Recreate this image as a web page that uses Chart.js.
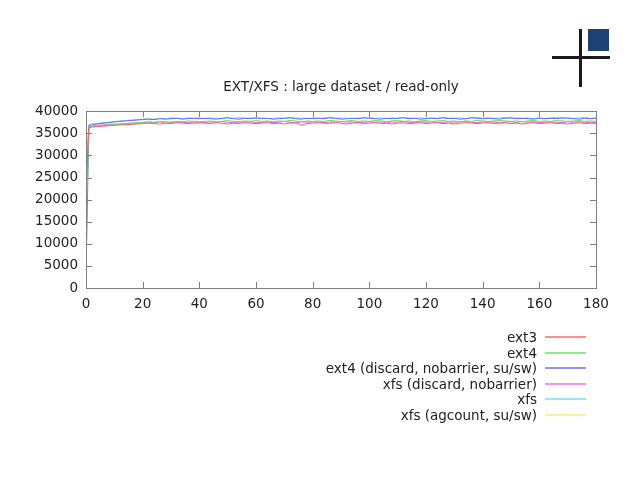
<!DOCTYPE html>
<html>
<head>
<meta charset="utf-8">
<script src="https://cdn.jsdelivr.net/npm/chart.js@4"></script>
<style>
  body { margin: 0; background: #fff; font-family: 'DejaVu Sans', sans-serif; }
  #wrap { position: relative; width: 638px; height: 479px; overflow: hidden; }
  #chart-box { position: absolute; left: 0; top: 0; width: 638px; height: 330px; }
  .bar { position: absolute; background: #1a1a1a; }
  #logo-sq { position: absolute; left: 588px; top: 29px; width: 21px; height: 22px; background: #1d4173; }
  #js-legend { position: absolute; right: 52px; top: 329px; width: 400px; height: 100px; }
  #js-legend ul { list-style: none; margin: 0; padding: 0; }
  #js-legend li { position: absolute; right: 0; height: 16px; line-height: 16px; font-size: 13.5px; color: #222; text-align: right; white-space: nowrap; }
  #js-legend span { position: absolute; right: 0; top: 7px; width: 41px; height: 2px; opacity: 0.7; }
  #js-legend em { font-style: normal; padding-right: 49px; }
</style>
</head>
<body>
<div id="wrap">
  <div id="chart-box"><canvas id="io-chart"></canvas></div>
  <div class="bar" style="left:579px;top:29px;width:3px;height:58px"></div>
  <div class="bar" style="left:552px;top:56px;width:58px;height:3px"></div>
  <div id="logo-sq"></div>
  <div id="js-legend"></div>
</div>
<script>
let labels = ['ext3', 'ext4', 'ext4 (discard, nobarrier, su/sw)', 'xfs (discard, nobarrier)', 'xfs', 'xfs (agcount, su/sw)'];
let colours = ['#f06464', '#64e064', '#6464f0', '#f064f0', '#64e4e4', '#f0f064'];

// seconds
let xs = [0, 1, 2, 4, 6, 8, 10, 12, 14, 16, 18, 20,
  22, 24, 26, 28, 30, 32, 34, 36, 38, 40,
  42, 44, 46, 48, 50, 52, 54, 56, 58, 60,
  62, 64, 66, 68, 70, 72, 74, 76, 78, 80,
  82, 84, 86, 88, 90, 92, 94, 96, 98, 100,
  102, 104, 106, 108, 110, 112, 114, 116, 118, 120,
  122, 124, 126, 128, 130, 132, 134, 136, 138, 140,
  142, 144, 146, 148, 150, 152, 154, 156, 158, 160,
  162, 164, 166, 168, 170, 172, 174, 176, 178, 180];

let ext3 = [22000, 36200, 36400, 36500, 36600, 36700, 36800, 36900, 37000, 37000, 37100, 37200,
  37300, 37200, 37100, 37300, 37200, 37400, 37300, 37200, 37300, 37400,
  37300, 37200, 37400, 37300, 37100, 37300, 37200, 37400, 37300, 37200,
  37300, 37400, 37200, 37300, 37100, 37300, 37400, 36800, 37200, 37300,
  37400, 37300, 37200, 37400, 37300, 37100, 37300, 37400, 37200, 37300,
  37400, 37200, 37300, 37100, 37300, 37400, 37200, 37300, 37400, 37200,
  37300, 37400, 37200, 37300, 37100, 37300, 37400, 37300, 37200, 37300,
  37400, 37200, 37300, 37400, 37200, 37300, 37100, 37300, 37400, 37200,
  37300, 37400, 37200, 37300, 37100, 37300, 37400, 37200, 37300, 37200];

let ext4 = [12000, 36400, 36600, 36700, 36800, 36900, 37000, 37100, 37200, 37300, 37400, 37500,
  37600, 37500, 37700, 37600, 37500, 37700, 37600, 37800, 37700, 37600,
  37700, 37800, 37600, 37700, 37900, 37700, 37600, 37800, 37700, 37900,
  37700, 37800, 37600, 37800, 37700, 37900, 37800, 37600, 37800, 37700,
  37800, 37700, 37900, 37800, 37600, 37800, 37900, 37700, 37800, 37700,
  37900, 37800, 37700, 37800, 37900, 37700, 37800, 37600, 37800, 37900,
  37700, 37800, 37900, 37700, 37800, 37600, 37800, 37700, 37900, 37800,
  37700, 37800, 37900, 37800, 37700, 37800, 37600, 37800, 37900, 37700,
  37800, 37700, 37900, 37800, 37700, 37800, 37900, 37700, 37800, 37700];

let ext4Discard = [3000, 36700, 37000, 37100, 37300, 37400, 37600, 37700, 37800, 37900, 38000, 38100,
  38200, 38100, 38300, 38200, 38300, 38400, 38200, 38300, 38400, 38300,
  38400, 38300, 38200, 38400, 38500, 38300, 38200, 38400, 38300, 38500,
  38300, 38400, 38200, 38300, 38400, 38500, 38300, 38200, 38400, 38300,
  38400, 38300, 38500, 38400, 38200, 38300, 38400, 38300, 38500, 38400,
  38300, 38200, 38400, 38300, 38400, 38500, 38300, 38400, 38200, 38300,
  38400, 38300, 38500, 38300, 38400, 38200, 38300, 38500, 38400, 38300,
  38400, 38300, 38200, 38400, 38500, 38300, 38400, 38300, 38200, 38400,
  38300, 38400, 38300, 38500, 38400, 38300, 38200, 38400, 38300, 38400];

let xfsDiscard = [18000, 36500, 36600, 36800, 36900, 37000, 37100, 37100, 37200, 37300, 37400, 37400,
  37500, 37400, 37600, 37500, 37400, 37600, 37500, 37400, 37600, 37500,
  37400, 37600, 37500, 37700, 37500, 37400, 37600, 37500, 37600, 37400,
  37500, 37600, 37400, 37500, 37700, 37500, 37400, 37600, 37500, 37600,
  37500, 37400, 37600, 37500, 37700, 37500, 37600, 37400, 37500, 37600,
  37500, 37600, 37400, 37600, 37500, 37700, 37500, 37400, 37600, 37500,
  37600, 37500, 37400, 37600, 37500, 37600, 37700, 37500, 37400, 37600,
  37500, 37600, 37400, 37500, 37600, 37500, 37700, 37500, 37600, 37400,
  37500, 37600, 37500, 37400, 37600, 37500, 37600, 37500, 37400, 37500];

let xfs = [26000, 36900, 37100, 37200, 37400, 37500, 37600, 37800, 37900, 38000, 38100, 38200,
  38300, 38200, 38400, 38300, 38500, 38400, 38300, 38500, 38400, 38500,
  38300, 38500, 38400, 38300, 38500, 38400, 38600, 38400, 38500, 38400,
  38500, 38300, 38400, 38500, 38400, 38600, 38400, 38500, 38300, 38500,
  38400, 38500, 38600, 38400, 38500, 38400, 38300, 38500, 38400, 38600,
  38400, 38500, 38300, 38500, 38400, 38600, 38500, 38400, 38500, 38400,
  38500, 38400, 38600, 38500, 38400, 38500, 38300, 38500, 38600, 38400,
  38500, 38400, 38500, 38600, 38400, 38500, 38400, 38500, 38300, 38500,
  38400, 38500, 38600, 38400, 38500, 38400, 38500, 38600, 38400, 38500];

let xfsAgcount = [30000, 36300, 36500, 36600, 36700, 36800, 36900, 37000, 37100, 37200, 37300, 37300,
  37400, 37500, 37400, 37500, 37600, 37400, 37500, 37600, 37500, 37400,
  37600, 37500, 37600, 37700, 37500, 37600, 37500, 37700, 37600, 37500,
  37600, 37700, 37500, 37600, 37700, 37600, 37500, 37700, 37600, 37500,
  37700, 37600, 37500, 37700, 37600, 37700, 37500, 37600, 37700, 37600,
  37500, 37700, 37600, 37500, 37600, 37700, 37600, 37500, 37700, 37600,
  37600, 37500, 37700, 37600, 37500, 37700, 37600, 37700, 37500, 37600,
  37700, 37600, 37500, 37600, 37700, 37500, 37600, 37700, 37600, 37500,
  37600, 37700, 37500, 37600, 37700, 37600, 37500, 37600, 37700, 37600];

let series = [ext3, ext4, ext4Discard, xfsDiscard, xfs, xfsAgcount];

let chartData = {
  datasets: series.map((vals, i) => ({
    label: labels[i],
    borderColor: colours[i],
    backgroundColor: colours[i],
    borderWidth: 1,
    pointRadius: 0,
    tension: 0,
    data: xs.map((x, j) => ({ x: x, y: vals[j] }))
  }))
};

// gnuplot style frame: box round the plot with inward ticks on all four sides
const frame = {
  id: 'frame',
  afterDatasetsDraw(chart) {
    const ctx = chart.ctx;
    const a = chart.chartArea;
    const len = 6;
    ctx.save();
    ctx.strokeStyle = '#808080';
    ctx.lineWidth = 1;
    ctx.beginPath();
    chart.scales.x.ticks.forEach(t => {
      const px = Math.round(chart.scales.x.getPixelForValue(t.value)) + 0.5;
      ctx.moveTo(px, a.bottom); ctx.lineTo(px, a.bottom - len);
      ctx.moveTo(px, a.top); ctx.lineTo(px, a.top + len);
    });
    chart.scales.y.ticks.forEach(t => {
      const py = Math.round(chart.scales.y.getPixelForValue(t.value)) + 0.5;
      ctx.moveTo(a.left, py); ctx.lineTo(a.left + len, py);
      ctx.moveTo(a.right, py); ctx.lineTo(a.right - len, py);
    });
    ctx.stroke();
    ctx.strokeRect(Math.round(a.left) + 0.5, Math.round(a.top) + 0.5,
      Math.round(a.right - a.left), Math.round(a.bottom - a.top));
    ctx.restore();
  }
};

window.addEventListener('DOMContentLoaded', (event) => {
  var chartBox = document.getElementById('io-chart');
  var chartLegendBox = document.getElementById('js-legend');
  Chart.defaults.font.family = "'DejaVu Sans', sans-serif";
  Chart.defaults.color = '#222';
  var chart = new Chart(chartBox, {
    type: 'line',
    data: chartData,
    options: {
      responsive: true,
      maintainAspectRatio: false,
      animation: false,
      layout: { padding: { left: 0, right: 42, top: 0, bottom: 12 } },
      plugins: {
        legend: { display: false }, // legend drawn as html below
        tooltip: { enabled: false },
        title: {
          display: true,
          fullSize: false, // centre over the plot, like gnuplot
          text: 'EXT/XFS : large dataset / read-only',
          font: { size: 13.5, weight: 'normal' },
          color: '#222',
          padding: { top: 79, bottom: 16 }
        }
      },
      scales: {
        x: {
          type: 'linear',
          min: 0,
          max: 180,
          grid: { display: false, drawTicks: false },
          border: { display: false },
          ticks: { stepSize: 20, padding: 8, font: { size: 13.5 }, color: '#222', maxRotation: 0,
            callback: (v) => String(v) },
          afterFit: (s) => { s.height = 30; }
        },
        y: {
          min: 0,
          max: 40000,
          grid: { display: false, drawTicks: false },
          border: { display: false },
          ticks: { stepSize: 5000, padding: 8, font: { size: 13.5 }, color: '#222',
            callback: (v) => String(v) },
          afterFit: (s) => { s.width = 86; }
        }
      }
    },
    plugins: [frame]
  });

  // one row per dataset, rows on whole pixels
  const ul = document.createElement('ul');
  chart.data.datasets.forEach((ds, i) => {
    ul.innerHTML += `<li style="top: ${ Math.round(i * 15.6) }px"><em>${ ds.label }</em><span style="background-color: ${ ds.borderColor }"></span></li>`;
  });
  chartLegendBox.appendChild(ul);
});
</script>
</body>
</html>
